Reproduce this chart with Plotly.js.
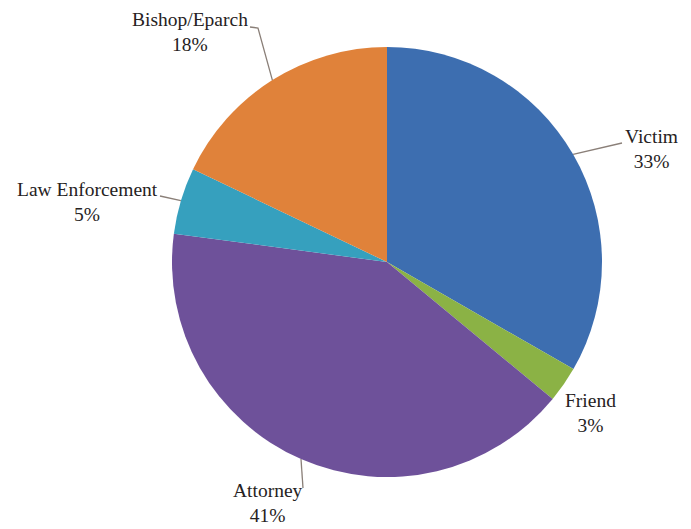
<!DOCTYPE html>
<html>
<head>
<meta charset="utf-8">
<script src="https://cdn.plot.ly/plotly-3.0.1.min.js"></script>
<style>html,body{margin:0;padding:0;background:#fff;}#chart{width:691px;height:529px;}</style>
</head>
<body>
<div id="chart"></div>
<script>
// Data
const labels = ["Victim", "Friend", "Attorney", "Law Enforcement", "Bishop/Eparch"];
const values = [33.3, 2.7, 41.1, 5.0, 17.9];
const colors = ["#3d6eb0", "#8bb245", "#6e519a", "#36a0be", "#e0823a"];

// Layout helpers (pixels)
const W = 691, H = 529;
const cx = 387, cy = 262, R = 215;
const px = x => x / W;
const py = y => 1 - y / H;

// label placement (text block center, px) and leader elbow points after edge
const labelPos = {
  "Victim": {tx: 651, ty: 149, path: [[622, 143]]},
  "Friend": {tx: 590, ty: 413, path: null},
  "Attorney": {tx: 268, ty: 503, path: [[303, 488]]},
  "Law Enforcement": {tx: 88, ty: 202, path: [[160, 196]]},
  "Bishop/Eparch": {tx: 190, ty: 32, path: [[258, 28], [250, 27]]}
};

const total = values.reduce((a, b) => a + b, 0);
let cum = 0;
const annotations = [];
const shapes = [];
labels.forEach((lab, i) => {
  const v = values[i];
  const mid = (cum + v / 2) / total * 2 * Math.PI;
  cum += v;
  const ex = cx + R * Math.sin(mid);
  const ey = cy - R * Math.cos(mid);
  const pct = Math.round(v / total * 100);
  const lp = labelPos[lab];
  annotations.push({
    x: px(lp.tx), y: py(lp.ty), xref: "paper", yref: "paper",
    text: lab + "<br>" + pct + "%", showarrow: false, align: "center",
    xanchor: "center", yanchor: "middle",
    font: {family: "Liberation Serif, Times New Roman, serif", size: 19.5, color: "#262222"}
  });
  if (lp.path) {
    let d = "M " + px(ex) + " " + py(ey);
    lp.path.forEach(p => { d += " L " + px(p[0]) + " " + py(p[1]); });
    shapes.push({type: "path", xref: "paper", yref: "paper", path: d,
      line: {color: "#8a7f78", width: 1.3}});
  }
});

const trace = {
  type: "pie",
  labels: labels,
  values: values,
  sort: false,
  direction: "clockwise",
  rotation: 0,
  textinfo: "none",
  hoverinfo: "label+percent",
  marker: {colors: colors, line: {width: 0}},
  domain: {x: [px(cx - R), px(cx + R)], y: [py(cy + R), py(cy - R)]},
  showlegend: false
};

const layout = {
  width: W, height: H,
  margin: {l: 0, r: 0, t: 0, b: 0},
  paper_bgcolor: "#ffffff",
  showlegend: false,
  annotations: annotations,
  shapes: shapes
};

Plotly.newPlot("chart", [trace], layout, {displayModeBar: false, staticPlot: true});
</script>
</body>
</html>
